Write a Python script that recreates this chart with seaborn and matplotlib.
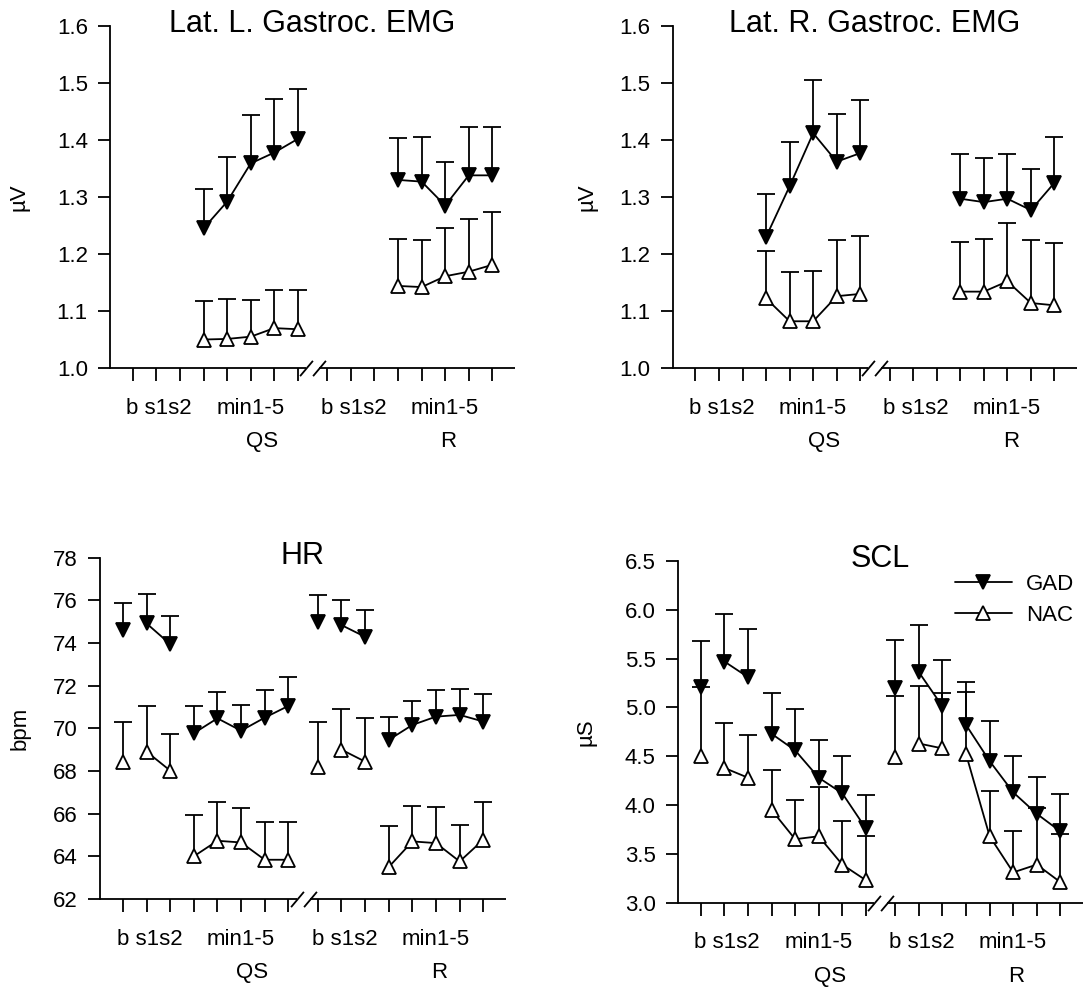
import numpy as np
import pandas as pd
import matplotlib
matplotlib.use('Agg')
import matplotlib.pyplot as plt
from matplotlib.lines import Line2D
from matplotlib.ticker import FormatStrFormatter, MultipleLocator
import seaborn as sns

sns.set_style('ticks')
plt.rcParams['font.family'] = ['Liberation Sans', 'DejaVu Sans']
plt.rcParams['text.color'] = 'black'
plt.rcParams['axes.labelcolor'] = 'black'
plt.rcParams['xtick.color'] = 'black'
plt.rcParams['ytick.color'] = 'black'
plt.rcParams['axes.edgecolor'] = 'black'

# ---------------- data ----------------
phases = ['QS', 'R']
conditions = ['b', 's1', 's2', 'min1', 'min2', 'min3', 'min4', 'min5']
segments = [0, 1, 1, 2, 2, 2, 2, 2]          # which points are joined by a line
groups = ['GAD', 'NAC']
nan = np.nan

titles = ['Lat. L. Gastroc. EMG', 'Lat. R. Gastroc. EMG', 'HR', 'SCL']
ylabels = ['\u00b5V', '\u00b5V', 'bpm', '\u00b5S']

# Lat. L. Gastroc. EMG  (means, standard errors)
lgl_gad_qs = [nan, nan, nan, 1.245, 1.292, 1.359, 1.378, 1.402]
lgl_gad_qs_se = [nan, nan, nan, 0.069, 0.079, 0.085, 0.094, 0.087]
lgl_gad_r = [nan, nan, nan, 1.330, 1.327, 1.285, 1.338, 1.338]
lgl_gad_r_se = [nan, nan, nan, 0.074, 0.078, 0.076, 0.084, 0.085]
lgl_nac_qs = [nan, nan, nan, 1.050, 1.051, 1.055, 1.070, 1.068]
lgl_nac_qs_se = [nan, nan, nan, 0.068, 0.070, 0.064, 0.066, 0.069]
lgl_nac_r = [nan, nan, nan, 1.144, 1.142, 1.161, 1.169, 1.181]
lgl_nac_r_se = [nan, nan, nan, 0.082, 0.083, 0.084, 0.092, 0.093]

# Lat. R. Gastroc. EMG
lgr_gad_qs = [nan, nan, nan, 1.230, 1.319, 1.412, 1.362, 1.377]
lgr_gad_qs_se = [nan, nan, nan, 0.076, 0.077, 0.093, 0.083, 0.093]
lgr_gad_r = [nan, nan, nan, 1.297, 1.291, 1.297, 1.277, 1.325]
lgr_gad_r_se = [nan, nan, nan, 0.079, 0.077, 0.079, 0.073, 0.080]
lgr_nac_qs = [nan, nan, nan, 1.122, 1.082, 1.082, 1.126, 1.130]
lgr_nac_qs_se = [nan, nan, nan, 0.083, 0.086, 0.088, 0.098, 0.102]
lgr_nac_r = [nan, nan, nan, 1.134, 1.134, 1.152, 1.114, 1.110]
lgr_nac_r_se = [nan, nan, nan, 0.087, 0.093, 0.102, 0.110, 0.110]

# HR
hr_gad_qs = [74.62, 74.92, 73.95, 69.77, 70.47, 69.89, 70.50, 71.05]
hr_gad_qs_se = [1.26, 1.38, 1.34, 1.26, 1.23, 1.19, 1.28, 1.35]
hr_gad_r = [75.00, 74.84, 74.29, 69.46, 70.16, 70.55, 70.63, 70.32]
hr_gad_r_se = [1.26, 1.16, 1.25, 1.06, 1.12, 1.23, 1.23, 1.29]
hr_nac_qs = [68.44, 68.91, 68.02, 64.00, 64.73, 64.65, 63.84, 63.84]
hr_nac_qs_se = [1.86, 2.15, 1.72, 1.95, 1.81, 1.61, 1.79, 1.75]
hr_nac_r = [68.20, 69.00, 68.44, 63.50, 64.70, 64.62, 63.76, 64.78]
hr_nac_r_se = [2.10, 1.90, 2.05, 1.90, 1.68, 1.69, 1.72, 1.76]

# SCL
scl_gad_qs = [5.21, 5.47, 5.31, 4.73, 4.56, 4.28, 4.12, 3.76]
scl_gad_qs_se = [0.47, 0.49, 0.49, 0.42, 0.42, 0.39, 0.38, 0.34]
scl_gad_r = [5.20, 5.36, 5.01, 4.82, 4.45, 4.13, 3.91, 3.73]
scl_gad_r_se = [0.49, 0.48, 0.48, 0.44, 0.41, 0.37, 0.38, 0.38]
scl_nac_qs = [4.50, 4.38, 4.28, 3.95, 3.65, 3.68, 3.39, 3.23]
scl_nac_qs_se = [0.71, 0.46, 0.44, 0.41, 0.40, 0.50, 0.45, 0.45]
scl_nac_r = [4.49, 4.63, 4.58, 4.52, 3.68, 3.31, 3.39, 3.21]
scl_nac_r_se = [0.63, 0.59, 0.57, 0.64, 0.46, 0.42, 0.58, 0.49]

panel_data = [
    (lgl_gad_qs, lgl_gad_qs_se, lgl_gad_r, lgl_gad_r_se, lgl_nac_qs, lgl_nac_qs_se, lgl_nac_r, lgl_nac_r_se),
    (lgr_gad_qs, lgr_gad_qs_se, lgr_gad_r, lgr_gad_r_se, lgr_nac_qs, lgr_nac_qs_se, lgr_nac_r, lgr_nac_r_se),
    (hr_gad_qs, hr_gad_qs_se, hr_gad_r, hr_gad_r_se, hr_nac_qs, hr_nac_qs_se, hr_nac_r, hr_nac_r_se),
    (scl_gad_qs, scl_gad_qs_se, scl_gad_r, scl_gad_r_se, scl_nac_qs, scl_nac_qs_se, scl_nac_r, scl_nac_r_se),
]

ylims = [(1.0, 1.6), (1.0, 1.6), (62, 78), (3.0, 6.5)]
ysteps = [0.1, 0.1, 2, 0.5]
yfmts = ['%.1f', '%.1f', '%d', '%.1f']

# ---------------- layout ----------------
R_OFFSET = 8.25
XLIM = (-0.97, 16.21)
BREAKS = (7.35, 7.9)
LW = 1.3
FS = 16
MS = 10.5

rects = [
    [0.1016, 0.6279, 0.3739, 0.3458],
    [0.6211, 0.6279, 0.3734, 0.3458],
    [0.0923, 0.0910, 0.3749, 0.3451],
    [0.6260, 0.0873, 0.3740, 0.3455],
]
ylabel_x = [-0.225, -0.212, -0.197, -0.227]

fig = plt.figure(figsize=(10.83, 9.89), dpi=100)

style = {
    'GAD': dict(marker='v', markerfacecolor='black'),
    'NAC': dict(marker='^', markerfacecolor='white'),
}

for i, d in enumerate(panel_data):
    ax = fig.add_axes(rects[i])
    rows = []
    for gi, g in enumerate(groups):
        for pi, ph in enumerate(phases):
            means = d[gi * 4 + pi * 2]
            ses = d[gi * 4 + pi * 2 + 1]
            for ci, c in enumerate(conditions):
                rows.append(dict(group=g, phase=ph, cond=c,
                                 x=ci + pi * R_OFFSET,
                                 seg=f'{ph}{segments[ci]}',
                                 mean=means[ci], se=ses[ci]))
    df = pd.DataFrame(rows).dropna()

    for g in groups:
        sub = df[df.group == g]
        # upward-only error bars: stem from the mean to mean+SE, cap only at the top
        ax.vlines(sub.x, sub['mean'], sub['mean'] + sub.se, color='black',
                  lw=LW, zorder=2)
        ax.plot(sub.x, sub['mean'] + sub.se, linestyle='none', marker='_',
                markersize=12.5, markeredgewidth=LW, color='black', zorder=2)
        sns.lineplot(data=sub, x='x', y='mean', units='seg', estimator=None,
                     sort=False, ax=ax, color='black', lw=LW,
                     markersize=MS, markeredgecolor='black',
                     markeredgewidth=1.3, zorder=3, legend=False,
                     **style[g])

    ax.set_xlim(*XLIM)
    ax.set_ylim(*ylims[i])
    ax.yaxis.set_major_locator(MultipleLocator(ysteps[i]))
    ax.yaxis.set_major_formatter(FormatStrFormatter(yfmts[i]))
    xt = [ci + pi * R_OFFSET for pi in range(2) for ci in range(len(conditions))]
    ax.set_xticks(xt)
    ax.set_xticklabels([''] * len(xt))
    ax.set_xlabel('')
    ax.set_ylabel('')
    ax.tick_params(direction='out', length=9, width=LW, labelsize=FS,
                   pad=7, colors='black')
    for s in ('top', 'right', 'bottom'):
        ax.spines[s].set_visible(False)
    ax.spines['left'].set_linewidth(LW)
    ax.spines['left'].set_color('black')

    trans = ax.get_xaxis_transform()
    ax.plot([XLIM[0], BREAKS[0]], [0, 0], transform=trans, color='black',
            lw=LW, clip_on=False, solid_capstyle='butt')
    ax.plot([BREAKS[1], XLIM[1]], [0, 0], transform=trans, color='black',
            lw=LW, clip_on=False, solid_capstyle='butt')
    for bx in BREAKS:
        ax.plot([bx], [0], transform=trans, marker=[(-0.42, -0.5), (0.42, 0.5)],
                markersize=11, color='black', markeredgewidth=LW,
                clip_on=False, linestyle='none')

    # category labels
    for pi, ph in enumerate(phases):
        off = pi * R_OFFSET
        ax.annotate('b s1s2', xy=(1.12 + off, 0), xycoords=trans,
                    xytext=(0, -29), textcoords='offset points',
                    ha='center', va='center', fontsize=FS)
        ax.annotate('min1-5', xy=(4.98 + off, 0), xycoords=trans,
                    xytext=(0, -29), textcoords='offset points',
                    ha='center', va='center', fontsize=FS)
        ax.annotate(ph, xy=(4.8 + off, 0), xycoords=trans,
                    xytext=(0, -53), textcoords='offset points',
                    ha='left', va='center', fontsize=FS)

    ax.text(0.5, 0.982, titles[i], transform=ax.transAxes, ha='center',
            va='baseline', fontsize=22)
    ax.text(ylabel_x[i], 0.5, ylabels[i], transform=ax.transAxes,
            rotation=90, ha='center', va='center', fontsize=FS)

    if i == 3:
        handles = [Line2D([], [], color='black', lw=LW, markersize=MS,
                          markeredgecolor='black', markeredgewidth=1.3,
                          **style[g]) for g in groups]
        ax.legend(handles, groups, loc='upper left',
                  bbox_to_anchor=(0.684, 0.962), frameon=False, fontsize=FS,
                  handlelength=2.56, handletextpad=0.63, labelspacing=0.45,
                  borderpad=0, borderaxespad=0, numpoints=1)

fig.savefig('out.png', dpi=100)
